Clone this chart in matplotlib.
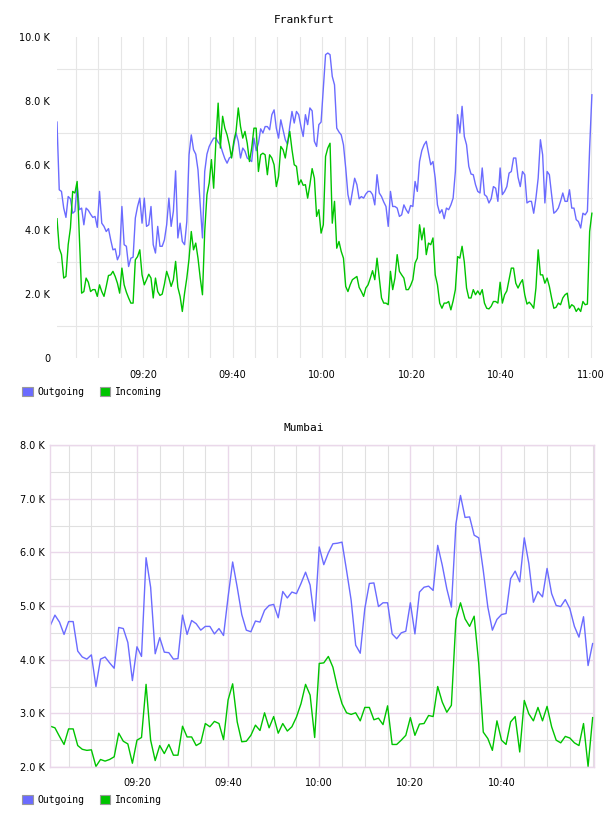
import pandas as pd
import matplotlib
matplotlib.use("Agg")
import matplotlib.pyplot as plt
import matplotlib.dates as mdates
from matplotlib.patches import Patch

# Frankfurt, 30 s samples, values in K
frankfurt_start = "2024-01-01 09:00:45"
frankfurt_outgoing = [
    7.35, 5.24, 5.19, 4.67, 4.38, 5.03, 4.96, 4.51, 4.57, 5.40, 4.62, 4.67, 4.15, 4.67, 4.60, 4.48, 4.38, 4.41, 4.07, 5.19,
    4.20, 4.10, 3.94, 4.03, 3.68, 3.37, 3.40, 3.06, 3.22, 4.72, 3.53, 3.48, 2.85, 3.11, 3.14, 4.36, 4.72, 4.98, 4.20, 4.98,
    4.10, 4.15, 4.72, 3.53, 3.27, 4.10, 3.48, 3.48, 3.68, 4.15, 4.98, 4.10, 4.57, 5.83, 3.74, 4.20, 3.63, 3.53, 4.25, 6.33,
    6.95, 6.49, 6.35, 5.86, 4.77, 3.74, 5.81, 6.35, 6.59, 6.73, 6.85, 6.85, 6.72, 6.64, 6.41, 6.21, 6.07, 6.23, 6.28, 6.64,
    7.01, 6.75, 6.23, 6.54, 6.44, 6.23, 6.18, 6.12, 6.85, 6.46, 6.69, 7.14, 7.01, 7.21, 7.21, 7.11, 7.58, 7.73, 7.16, 6.85,
    7.42, 7.11, 6.80, 6.66, 7.21, 7.68, 7.32, 7.68, 7.58, 7.21, 6.90, 7.58, 7.27, 7.79, 7.70, 6.75, 6.59, 7.27, 7.35, 8.41,
    9.45, 9.50, 9.45, 8.77, 8.51, 7.16, 7.04, 6.95, 6.64, 5.92, 5.09, 4.77, 5.19, 5.60, 5.40, 4.96, 5.03, 4.98, 5.11, 5.19,
    5.19, 5.09, 4.77, 5.71, 5.14, 5.03, 4.86, 4.72, 4.10, 5.19, 4.72, 4.72, 4.67, 4.41, 4.46, 4.77, 4.62, 4.51, 4.75, 4.72,
    5.50, 5.19, 6.12, 6.46, 6.64, 6.75, 6.38, 6.02, 6.12, 5.60, 4.77, 4.51, 4.62, 4.34, 4.67, 4.62, 4.77, 4.98, 5.81, 7.58,
    7.01, 7.84, 6.90, 6.64, 5.97, 5.73, 5.71, 5.40, 5.19, 5.14, 5.92, 5.09, 5.03, 4.83, 4.96, 5.34, 5.29, 4.88, 5.92, 5.09,
    5.19, 5.34, 5.76, 5.81, 6.23, 6.23, 5.63, 5.34, 5.81, 5.71, 4.83, 4.88, 4.88, 4.51, 4.98, 5.60, 6.80, 6.33, 4.83, 5.81,
    5.71, 5.09, 4.51, 4.57, 4.67, 4.88, 5.14, 4.88, 4.88, 5.24, 4.67, 4.67, 4.31, 4.25, 4.05, 4.51, 4.46, 4.57, 6.54, 8.20,
]
frankfurt_incoming = [
    4.34, 3.42, 3.22, 2.49, 2.54, 3.53, 4.05, 5.19, 5.14, 5.50, 3.74, 2.02, 2.07, 2.49, 2.36, 2.07, 2.13, 2.13, 1.92, 2.28,
    2.07, 1.92, 2.23, 2.57, 2.59, 2.70, 2.54, 2.33, 2.02, 2.80, 2.28, 2.05, 1.87, 1.71, 1.71, 3.06, 3.16, 3.37, 2.59, 2.28,
    2.44, 2.61, 2.49, 1.87, 2.49, 2.07, 1.95, 1.99, 2.30, 2.70, 2.49, 2.23, 2.44, 3.01, 2.20, 1.92, 1.45, 2.02, 2.49, 3.09,
    3.94, 3.37, 3.58, 3.11, 2.49, 1.97, 3.94, 5.09, 5.45, 6.18, 5.29, 6.75, 7.94, 6.54, 7.53, 7.16, 6.95, 6.64, 6.23, 6.75,
    7.06, 7.79, 7.21, 6.85, 7.06, 6.69, 6.12, 6.54, 7.16, 7.16, 5.81, 6.33, 6.38, 6.33, 5.71, 6.33, 6.23, 6.02, 5.34, 5.66,
    6.59, 6.49, 6.23, 6.69, 7.06, 6.49, 6.02, 5.97, 5.40, 5.55, 5.38, 5.40, 4.98, 5.40, 5.90, 5.60, 4.41, 4.62, 3.89, 4.15,
    6.28, 6.54, 6.69, 4.20, 4.88, 3.42, 3.63, 3.32, 3.11, 2.23, 2.07, 2.28, 2.44, 2.49, 2.54, 2.20, 2.07, 1.92, 2.18, 2.28,
    2.49, 2.72, 2.44, 3.11, 2.49, 1.87, 1.71, 1.71, 1.66, 2.70, 2.13, 2.49, 3.22, 2.70, 2.59, 2.49, 2.13, 2.13, 2.26, 2.44,
    2.96, 3.11, 4.15, 3.68, 4.05, 3.22, 3.58, 3.53, 3.74, 2.59, 2.28, 1.71, 1.55, 1.71, 1.71, 1.76, 1.50, 1.78, 2.13, 3.16,
    3.11, 3.48, 2.99, 2.18, 1.87, 1.87, 2.13, 1.97, 2.09, 1.97, 2.13, 1.71, 1.55, 1.53, 1.61, 1.76, 1.76, 1.71, 2.36, 1.71,
    1.97, 2.09, 2.44, 2.80, 2.80, 2.33, 2.18, 2.33, 2.44, 1.97, 1.68, 1.74, 1.66, 1.55, 2.18, 3.37, 2.59, 2.59, 2.33, 2.49,
    2.23, 1.87, 1.55, 1.58, 1.71, 1.66, 1.87, 1.97, 2.02, 1.55, 1.66, 1.61, 1.45, 1.55, 1.45, 1.76, 1.66, 1.68, 3.94, 4.51,
]

# Mumbai, 1 min samples, values in K
mumbai_start = "2024-01-01 09:01:00"
mumbai_outgoing = [
    4.64, 4.83, 4.70, 4.47, 4.71, 4.71, 4.16, 4.05, 4.01, 4.09, 3.50, 4.01, 4.05, 3.94, 3.84, 4.60, 4.58, 4.32, 3.61, 4.24,
    4.06, 5.90, 5.35, 4.11, 4.41, 4.14, 4.13, 4.01, 4.02, 4.83, 4.47, 4.73, 4.67, 4.55, 4.62, 4.62, 4.48, 4.58, 4.45, 5.17,
    5.82, 5.35, 4.84, 4.55, 4.52, 4.72, 4.70, 4.92, 5.01, 5.03, 4.78, 5.27, 5.15, 5.26, 5.23, 5.42, 5.63, 5.39, 4.72, 6.10,
    5.77, 5.99, 6.16, 6.17, 6.19, 5.66, 5.11, 4.27, 4.12, 4.95, 5.42, 5.43, 4.99, 5.06, 5.06, 4.48, 4.39, 4.50, 4.53, 5.06,
    4.48, 5.26, 5.35, 5.37, 5.29, 6.13, 5.76, 5.32, 4.98, 6.53, 7.06, 6.65, 6.66, 6.32, 6.27, 5.66, 4.98, 4.55, 4.75, 4.84,
    4.86, 5.51, 5.65, 5.45, 6.27, 5.79, 5.07, 5.27, 5.17, 5.70, 5.23, 5.01, 4.99, 5.12, 4.95, 4.62, 4.42, 4.80, 3.89, 4.30,
]
mumbai_incoming = [
    2.76, 2.73, 2.57, 2.42, 2.71, 2.71, 2.40, 2.33, 2.31, 2.32, 2.01, 2.14, 2.11, 2.14, 2.19, 2.63, 2.48, 2.43, 2.07, 2.50,
    2.55, 3.54, 2.50, 2.12, 2.40, 2.25, 2.42, 2.22, 2.22, 2.76, 2.56, 2.56, 2.40, 2.45, 2.81, 2.75, 2.85, 2.81, 2.51, 3.25,
    3.55, 2.84, 2.47, 2.48, 2.59, 2.78, 2.68, 3.01, 2.73, 2.94, 2.63, 2.81, 2.67, 2.75, 2.93, 3.18, 3.54, 3.34, 2.55, 3.93,
    3.94, 4.06, 3.86, 3.48, 3.18, 3.01, 2.98, 3.01, 2.86, 3.11, 3.11, 2.88, 2.91, 2.79, 3.14, 2.42, 2.42, 2.50, 2.59, 2.92,
    2.59, 2.80, 2.81, 2.96, 2.94, 3.50, 3.21, 3.02, 3.15, 4.75, 5.06, 4.76, 4.62, 4.81, 3.93, 2.65, 2.53, 2.31, 2.86, 2.50,
    2.42, 2.84, 2.94, 2.28, 3.24, 2.99, 2.86, 3.11, 2.86, 3.13, 2.75, 2.50, 2.45, 2.57, 2.54, 2.45, 2.40, 2.81, 2.01, 2.92,
]

series_labels = ["Outgoing", "Incoming"]
frankfurt_ytick_labels = ["0", "2.0 K", "4.0 K", "6.0 K", "8.0 K", "10.0 K"]
mumbai_ytick_labels = ["2.0 K", "3.0 K", "4.0 K", "5.0 K", "6.0 K", "7.0 K", "8.0 K"]

BLUE = "#6b6bff"
GREEN = "#00c400"
GRID = "#e6e6e6"
PURPLE = "#ead8ea"
MONO = "DejaVu Sans Mono"


def legend_handles():
    return [Patch(facecolor=BLUE, edgecolor="#9a9a9a", linewidth=0.8),
            Patch(facecolor=GREEN, edgecolor="#9a9a9a", linewidth=0.8)]


fig = plt.figure(figsize=(6.08, 8.16), dpi=100)

# ---- Frankfurt ----
t_fra = pd.date_range(frankfurt_start, periods=len(frankfurt_outgoing), freq="30s")
ax1 = fig.add_axes([57 / 608, 1 - 358 / 816, 536 / 608, 321 / 816])
ax1.plot(t_fra, frankfurt_outgoing, color=BLUE, lw=1.0)
ax1.plot(t_fra, frankfurt_incoming, color=GREEN, lw=1.0)
ax1.set_ylim(0, 10)
ax1.set_xlim(t_fra[0], t_fra[-1] + pd.Timedelta(seconds=15))
ax1.set_yticks(range(0, 11, 2), frankfurt_ytick_labels)
ax1.set_yticks(range(1, 10, 2), minor=True)
ax1.xaxis.set_major_locator(mdates.MinuteLocator(byminute=[0, 20, 40]))
ax1.xaxis.set_minor_locator(mdates.MinuteLocator(byminute=range(0, 60, 5)))
ax1.xaxis.set_major_formatter(mdates.DateFormatter("%H:%M"))
ax1.grid(False)
ax1.grid(which="minor", color=GRID, lw=0.8)
ax1.grid(which="major", axis="x", color=GRID, lw=0.8)
for s in ax1.spines.values():
    s.set_visible(False)
ax1.tick_params(which="both", length=0)
ax1.tick_params(axis="y", pad=5, labelsize=7)
ax1.tick_params(axis="x", pad=9, labelsize=7)
ax1.set_axisbelow(True)
fig.text(0.5, 1 - 20 / 816, "Frankfurt", ha="center", va="center", family=MONO, fontsize=8)
fig.legend(legend_handles(), series_labels, loc="center left", bbox_to_anchor=(22 / 608, 1 - 392 / 816),
           ncol=2, frameon=False, prop={"family": MONO, "size": 7}, handlelength=1.1, handleheight=1.1,
           handletextpad=0.45, columnspacing=1.6, borderpad=0, borderaxespad=0)

# ---- Mumbai ----
t_mum = pd.date_range(mumbai_start, periods=len(mumbai_outgoing), freq="1min")
ax2 = fig.add_axes([50 / 608, 1 - 767 / 816, 544 / 608, 322 / 816])
ax2.plot(t_mum, mumbai_outgoing, color=BLUE, lw=1.0)
ax2.plot(t_mum, mumbai_incoming, color=GREEN, lw=1.0)
ax2.set_ylim(2, 8)
ax2.set_xlim(t_mum[0] - pd.Timedelta(seconds=5), t_mum[-1] + pd.Timedelta(seconds=18))
ax2.set_yticks(range(2, 9), mumbai_ytick_labels)
ax2.set_yticks([v + 0.5 for v in range(2, 8)], minor=True)
ticks_mum = pd.date_range("2024-01-01 09:20", "2024-01-01 10:40", freq="20min")
ax2.set_xticks(ticks_mum)
ax2.xaxis.set_minor_locator(mdates.MinuteLocator(byminute=range(0, 60, 5)))
ax2.xaxis.set_major_formatter(mdates.DateFormatter("%H:%M"))
ax2.grid(which="minor", color="#e0e0e0", lw=0.8)
ax2.grid(which="major", color=PURPLE, lw=1.0)
for s in ax2.spines.values():
    s.set_color(PURPLE)
    s.set_linewidth(1.0)
ax2.tick_params(which="both", length=0)
ax2.tick_params(axis="y", pad=4, labelsize=7)
ax2.tick_params(axis="x", pad=8, labelsize=7)
ax2.set_axisbelow(True)
fig.text(0.5, 1 - 428 / 816, "Mumbai", ha="center", va="center", family=MONO, fontsize=8)
fig.legend(legend_handles(), series_labels, loc="center left", bbox_to_anchor=(22 / 608, 1 - 800 / 816),
           ncol=2, frameon=False, prop={"family": MONO, "size": 7}, handlelength=1.1, handleheight=1.1,
           handletextpad=0.45, columnspacing=1.6, borderpad=0, borderaxespad=0)

fig.savefig("out.png", dpi=100)
